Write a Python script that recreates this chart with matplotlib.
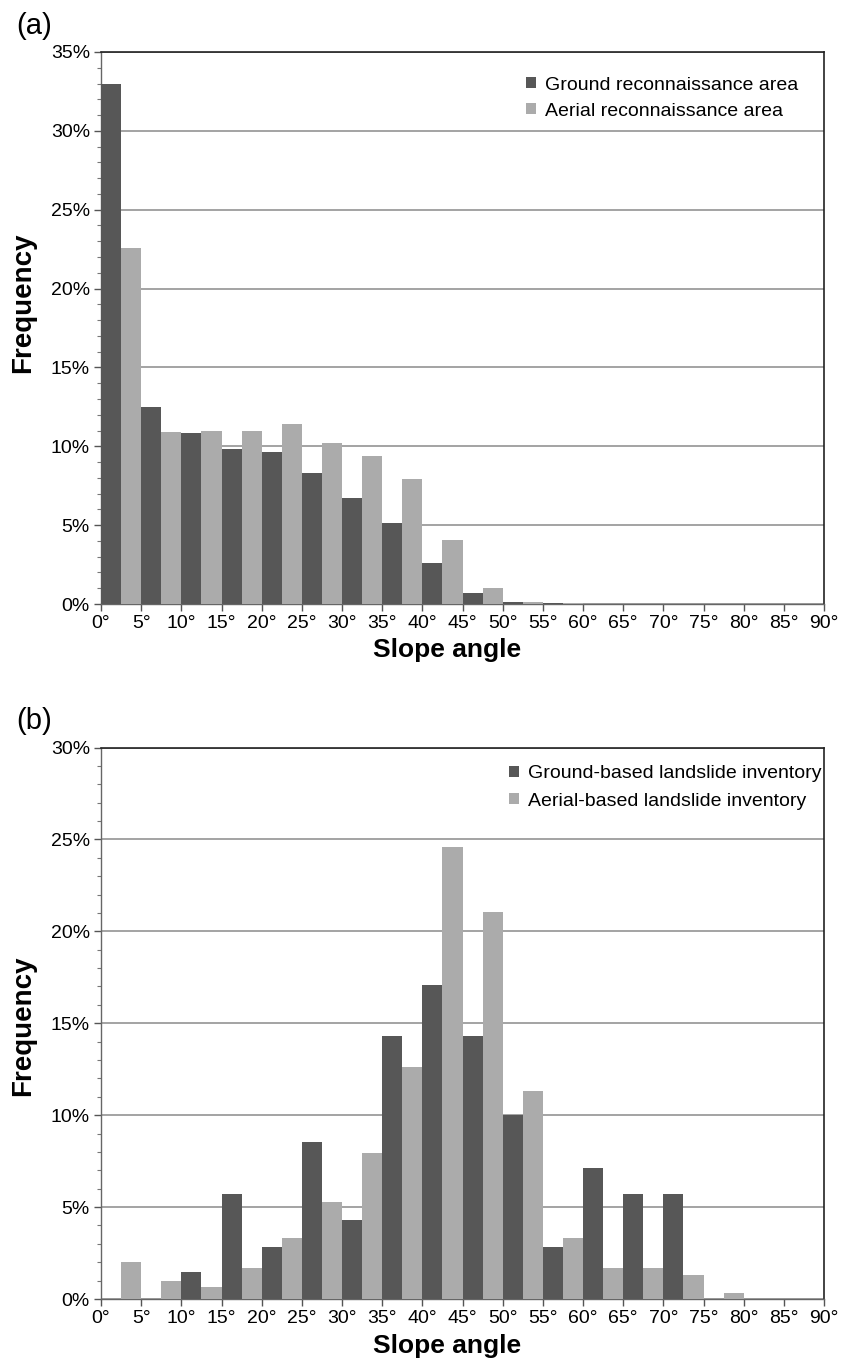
import matplotlib
matplotlib.use("Agg")
import matplotlib.pyplot as plt
import numpy as np
from matplotlib.ticker import MultipleLocator, FuncFormatter

plt.rcParams['font.family'] = ['Liberation Sans', 'DejaVu Sans']

# Bin starts (degrees)
bins = list(range(0, 90, 5))

# Panel (a): slope distribution of reconnaissance areas (%)
ground_area = [33.0, 12.5, 10.85, 9.8, 9.65, 8.3, 6.75, 5.15, 2.6, 0.72, 0.15, 0.05,
               0, 0, 0, 0, 0, 0]
aerial_area = [22.6, 10.9, 11.0, 11.0, 11.4, 10.2, 9.4, 7.95, 4.05, 1.0, 0.15, 0.05,
               0, 0, 0, 0, 0, 0]

# Panel (b): slope distribution of landslide inventories (%)
ground_inv = [0, 0, 1.45, 5.7, 2.85, 8.55, 4.3, 14.3, 17.1, 14.3, 10.0, 2.85,
              7.1, 5.7, 5.7, 0, 0, 0]
aerial_inv = [2.0, 1.0, 0.67, 1.66, 3.3, 5.3, 7.95, 12.6, 24.6, 21.05, 11.3, 3.3,
              1.66, 1.66, 1.3, 0.33, 0, 0]

xticks = list(range(0, 95, 5))
xticklabels = [f"{t}°" for t in xticks]

panels = [
    dict(label="(a)", ground=ground_area, aerial=aerial_area, ymax=35,
         names=["Ground reconnaissance area", "Aerial reconnaissance area"]),
    dict(label="(b)", ground=ground_inv, aerial=aerial_inv, ymax=30,
         names=["Ground-based landslide inventory", "Aerial-based landslide inventory"]),
]

DARK = "#575757"
LIGHT = "#ababab"
GRID = "#8a8a8a"

W, H = 845, 1364
fig = plt.figure(figsize=(W / 100, H / 100), dpi=100)
rects = [
    [101/W, 1 - 604/H, 723/W, 552/H],
    [101/W, 1 - 1299/H, 723/W, 551.5/H],
]
label_pos = [(16/W, 1 - 26/H), (16/W, 1 - 721/H)]
leg_anchor = [(0.588, 0.955), (0.565, 0.968)]
leg_spacing = [0.45, 0.55]
ylab_y = [0.50 + (328 - 303) / 552, 0.50 + (1023 - 1026) / 551.5]
xlab_y = [(604 - 650) / 552, (1299 - 1346) / 551.5]

for p, r, lp, la, ls, yy, xy in zip(panels, rects, label_pos, leg_anchor,
                                     leg_spacing, ylab_y, xlab_y):
    ax = fig.add_axes(r)
    x = np.array(bins, dtype=float)
    ax.bar(x, p["ground"], width=2.5, align="edge", color=DARK,
           label=p["names"][0], zorder=3)
    ax.bar(x + 2.5, p["aerial"], width=2.5, align="edge", color=LIGHT,
           label=p["names"][1], zorder=3)
    ax.set_xlim(0, 90)
    ax.set_ylim(0, p["ymax"])
    ax.set_xticks(xticks)
    ax.set_xticklabels(xticklabels, fontsize=14)
    ax.yaxis.set_major_locator(MultipleLocator(5))
    ax.yaxis.set_minor_locator(MultipleLocator(1))
    ax.yaxis.set_major_formatter(FuncFormatter(lambda v, pos: f"{int(round(v))}%"))
    ax.tick_params(axis="y", which="major", labelsize=14, length=5, width=1,
                   color="#555555", pad=3)
    ax.tick_params(axis="y", which="minor", length=3, width=0.8, color="#777777")
    ax.tick_params(axis="x", which="major", length=5, width=1, color="#555555", pad=3)
    ax.grid(axis="y", which="major", color=GRID, linewidth=1.1, zorder=0)
    ax.set_axisbelow(True)
    for s in ["left", "bottom"]:
        ax.spines[s].set_color("#666666")
        ax.spines[s].set_linewidth(1.0)
    for s in ["top", "right"]:
        ax.spines[s].set_color("#222222")
        ax.spines[s].set_linewidth(1.2)
    ax.set_xlabel("Slope angle", fontsize=19, fontweight="bold", va="center")
    ax.xaxis.set_label_coords((447 - 101) / 723, xy)
    ax.set_ylabel("Frequency", fontsize=20, fontweight="bold")
    ax.yaxis.set_label_coords(-(101 - 36) / 723, yy)
    ax.legend(loc="upper left", bbox_to_anchor=la, frameon=False,
              fontsize=14, handlelength=0.5, handleheight=0.5,
              handletextpad=0.45, labelspacing=ls, borderaxespad=0,
              borderpad=0.0)
    fig.text(lp[0], lp[1], p["label"], fontsize=21, va="center", ha="left")

fig.savefig("out.png", dpi=100)
